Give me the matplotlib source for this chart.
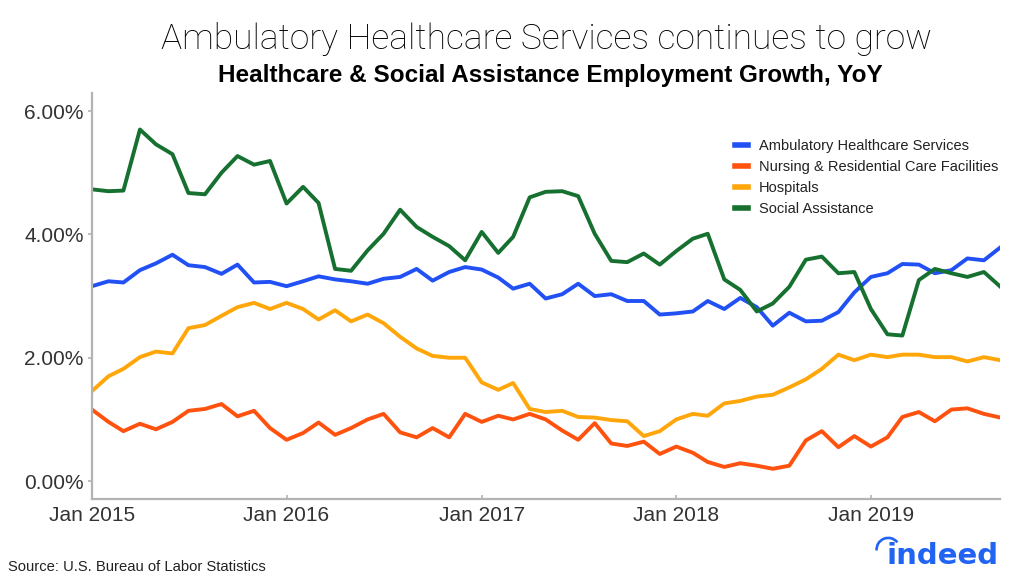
import matplotlib
matplotlib.use("Agg")
import matplotlib.pyplot as plt
import matplotlib.ticker as mticker
import matplotlib.dates as mdates
from matplotlib.patches import Arc
import pandas as pd

months = pd.date_range("2015-01-01", periods=57, freq="MS")

ambulatory = [3.16, 3.24, 3.22, 3.42, 3.53, 3.67, 3.50, 3.47, 3.36, 3.51, 3.22, 3.23,
              3.16, 3.24, 3.32, 3.27, 3.24, 3.20, 3.28, 3.31, 3.44, 3.25, 3.39, 3.47,
              3.43, 3.30, 3.12, 3.20, 2.96, 3.03, 3.20, 3.00, 3.03, 2.92, 2.92, 2.70,
              2.72, 2.75, 2.92, 2.79, 2.97, 2.82, 2.52, 2.73, 2.59, 2.60, 2.74, 3.06,
              3.31, 3.37, 3.52, 3.51, 3.37, 3.42, 3.61, 3.58, 3.79]
nursing = [1.16, 0.96, 0.81, 0.93, 0.84, 0.96, 1.14, 1.17, 1.25, 1.05, 1.14, 0.86,
           0.67, 0.78, 0.95, 0.75, 0.86, 1.00, 1.09, 0.79, 0.71, 0.86, 0.71, 1.09,
           0.96, 1.06, 1.00, 1.09, 1.00, 0.82, 0.67, 0.94, 0.61, 0.57, 0.64, 0.44,
           0.56, 0.46, 0.31, 0.23, 0.29, 0.25, 0.20, 0.25, 0.66, 0.81, 0.55, 0.73,
           0.56, 0.71, 1.04, 1.12, 0.97, 1.16, 1.18, 1.09, 1.03]
hospitals = [1.46, 1.70, 1.82, 2.01, 2.10, 2.07, 2.48, 2.53, 2.68, 2.82, 2.89, 2.79,
             2.89, 2.79, 2.62, 2.77, 2.59, 2.70, 2.56, 2.34, 2.15, 2.03, 2.00, 2.00,
             1.60, 1.48, 1.59, 1.17, 1.12, 1.14, 1.04, 1.03, 0.99, 0.97, 0.73, 0.81,
             1.00, 1.09, 1.06, 1.26, 1.30, 1.37, 1.40, 1.52, 1.65, 1.82, 2.05, 1.96,
             2.05, 2.01, 2.05, 2.05, 2.01, 2.01, 1.94, 2.01, 1.96]
social = [4.73, 4.70, 4.71, 5.70, 5.46, 5.30, 4.67, 4.65, 5.00, 5.27, 5.13, 5.19,
          4.50, 4.77, 4.51, 3.44, 3.41, 3.74, 4.01, 4.40, 4.12, 3.96, 3.81, 3.58,
          4.04, 3.70, 3.96, 4.60, 4.69, 4.70, 4.62, 4.01, 3.57, 3.55, 3.69, 3.51,
          3.73, 3.93, 4.01, 3.27, 3.10, 2.75, 2.88, 3.15, 3.59, 3.64, 3.37, 3.39,
          2.79, 2.38, 2.36, 3.26, 3.44, 3.37, 3.31, 3.39, 3.15]

series = [
    ("Ambulatory Healthcare Services", ambulatory, "#2150f5"),
    ("Nursing & Residential Care Facilities", nursing, "#ff520f"),
    ("Hospitals", hospitals, "#ffa60a"),
    ("Social Assistance", social, "#16702f"),
]
y_ticks = [0, 2, 4, 6]
x_ticks = pd.to_datetime(["2015-01-01", "2016-01-01", "2017-01-01", "2018-01-01", "2019-01-01"])

roboto = ["Roboto", "DejaVu Sans"]
helv = ["Liberation Sans", "DejaVu Sans"]

fig = plt.figure(figsize=(10.24, 5.82), dpi=100)
ax = fig.add_axes([0.0898, 0.1426, 0.8872, 0.6974])

for name, vals, color in series:
    ax.plot(months, vals, color=color, linewidth=2.8, label=name)

ax.set_xlim(months[0], months[-1])
ax.set_ylim(-0.29, 6.29)
ax.set_yticks(y_ticks)
ax.yaxis.set_major_formatter(mticker.FuncFormatter(lambda v, p: f"{v:.2f}%"))
ax.set_xticks(x_ticks)
ax.xaxis.set_major_formatter(mdates.DateFormatter("Jan %Y"))

for side in ["top", "right"]:
    ax.spines[side].set_visible(False)
for side in ["left", "bottom"]:
    ax.spines[side].set_color("#b3b3b3")
    ax.spines[side].set_linewidth(1.6)
ax.tick_params(axis="y", color="#b3b3b3", length=3, width=1.2, labelcolor="#333333",
               labelsize=15, pad=3)
ax.tick_params(axis="x", color="#b3b3b3", length=3, width=1.2, direction="in",
               labelcolor="#333333", labelsize=15, pad=5)
for lbl in ax.get_xticklabels() + ax.get_yticklabels():
    lbl.set_family(helv)

leg = ax.legend(loc="upper right", bbox_to_anchor=(1.009, 0.912), frameon=False,
                fontsize=10.5, handlelength=0.9, handletextpad=0.75, labelspacing=0.48,
                borderaxespad=0.3)
for h in leg.get_lines():
    h.set_linewidth(4)
for t in leg.get_texts():
    t.set_family(helv)
    t.set_color("#222222")

fig.text(0.534, 0.933, "Ambulatory Healthcare Services continues to grow", ha="center",
         va="center", fontsize=25.5, color="#000000", family=roboto, fontweight="light")
fig.text(0.537, 0.870, "Healthcare & Social Assistance Employment Growth, YoY", ha="center",
         va="center", fontsize=17.5, fontweight="bold", color="#000000", family=helv)
fig.text(0.008, 0.026, "Source: U.S. Bureau of Labor Statistics", ha="left", va="center",
         fontsize=10.6, color="#222222", family=helv)

# indeed logo
fig.text(0.9756, 0.0309, "indeed", ha="right", va="baseline", fontsize=21, fontweight="bold",
         color="#2164f3", family=["DejaVu Sans"])
fig.patches.append(Arc((0.8674, 0.0558), 0.0227, 0.0399, theta1=54, theta2=188,
                       transform=fig.transFigure, color="#2164f3", linewidth=1.9))

fig.savefig("out.png", dpi=100)
